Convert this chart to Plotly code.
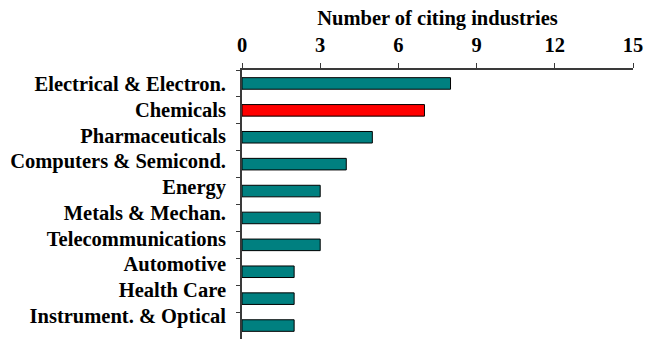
import plotly.graph_objects as go

# Industries and the number of industries citing them
industries = [
    "Electrical & Electron.",
    "Chemicals",
    "Pharmaceuticals",
    "Computers & Semicond.",
    "Energy",
    "Metals & Mechan.",
    "Telecommunications",
    "Automotive",
    "Health Care",
    "Instrument. & Optical",
]
citing_counts = [8, 7, 5, 4, 3, 3, 3, 2, 2, 2]
highlight = "Chemicals"

x_ticks = [0, 3, 6, 9, 12, 15]

TEAL = "#008080"
RED = "#FF0000"
AXIS = "#3a3a3a"
FONT = "Liberation Serif, Times New Roman, serif"
FS = 20.5

colors = [RED if name == highlight else TEAL for name in industries]

fig = go.Figure()
fig.add_trace(go.Bar(
    x=citing_counts,
    y=industries,
    orientation="h",
    marker=dict(color=colors, line=dict(color="black", width=1)),
    hoverinfo="x+y",
    showlegend=False,
))
# label track on a second axis so labels sit on their own spacing
fig.add_trace(go.Scatter(
    x=[None] * len(industries),
    y=industries,
    yaxis="y2",
    mode="markers",
    hoverinfo="skip",
    showlegend=False,
))

fig.update_layout(
    width=649,
    height=339,
    margin=dict(l=242, r=16, t=70, b=0),
    paper_bgcolor="white",
    plot_bgcolor="white",
    bargap=0.57,
    font=dict(family=FONT, size=FS, color="black"),
    xaxis=dict(
        side="top",
        range=[0, 15],
        tickvals=x_ticks,
        ticktext=[f"<b>{v}</b>" for v in x_ticks],
        ticks="outside",
        ticklen=5,
        tickcolor=AXIS,
        ticklabelstandoff=3,
        showline=True,
        linecolor=AXIS,
        linewidth=1.5,
        showgrid=False,
        zeroline=False,
        tickfont=dict(family=FONT, size=FS, color="black"),
        title=dict(
            text="<b>Number of citing industries</b>",
            font=dict(family=FONT, size=FS, color="black"),
            standoff=3,
        ),
    ),
    yaxis=dict(
        type="category",
        categoryorder="array",
        categoryarray=industries,
        range=[len(industries) - 0.5, -0.5],
        showticklabels=False,
        ticks="outside",
        tickson="boundaries",
        ticklen=4,
        tickcolor=AXIS,
        showline=True,
        linecolor=AXIS,
        linewidth=1.5,
        showgrid=False,
    ),
    yaxis2=dict(
        type="category",
        categoryorder="array",
        categoryarray=industries,
        overlaying="y",
        side="left",
        range=[9.9, -0.54],
        ticktext=[f"<b>{n}</b>" for n in industries],
        tickvals=industries,
        ticks="",
        ticklabelstandoff=15,
        showline=False,
        showgrid=False,
        tickfont=dict(family=FONT, size=FS, color="black"),
    ),
)

fig.write_html("out.html")
